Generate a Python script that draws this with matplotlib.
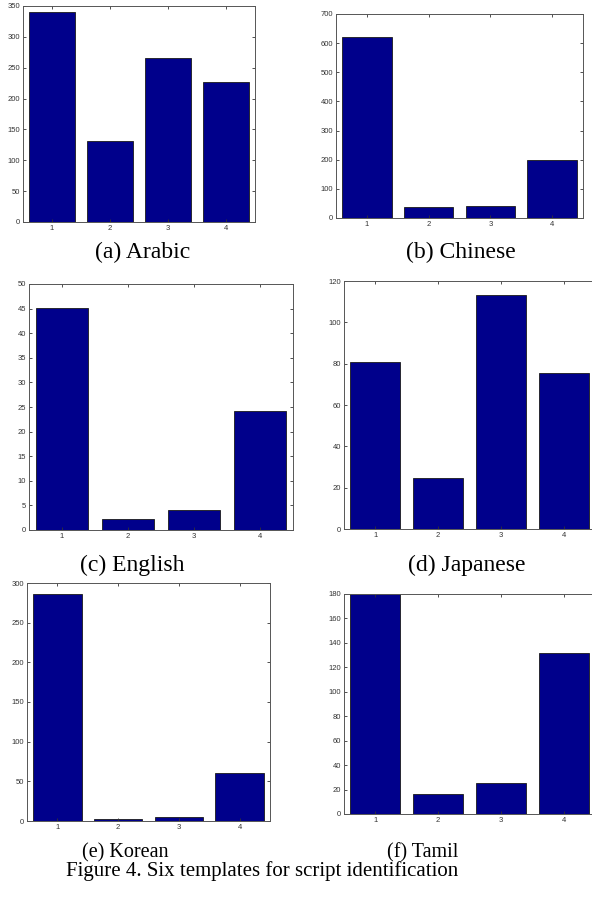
import matplotlib
matplotlib.use("Agg")
import matplotlib.pyplot as plt

# Template histograms (four features per script)
categories = [1, 2, 3, 4]
arabic = [340, 132, 266, 227]
chinese = [621, 39, 41, 198]
english = [45.2, 2.3, 4.0, 24.1]
japanese = [81, 24.6, 113.4, 75.6]
korean = [286, 2.5, 5, 60]
tamil = [180, 16, 25.4, 132]

y_maxes = [350, 700, 50, 120, 300, 180]
y_steps = [50, 100, 5, 20, 50, 20]
captions = ["(a) Arabic", "(b) Chinese", "(c) English",
            "(d) Japanese", "(e) Korean", "(f) Tamil"]
figure_title = "Figure 4. Six templates for script identification"

W, H = 592, 899
fig = plt.figure(figsize=(W / 100, H / 100), dpi=100)

# axes boxes in pixels: left, right, top, bottom
boxes = [
    (23, 255, 6, 222),
    (336, 583, 14, 218),
    (29, 293, 284, 530),
    (344, 595, 281, 529),
    (27, 270, 583, 821),
    (344, 595, 594, 814),
]
# caption centre x and baseline y in pixels, plus font size
cap_pos = [(143, 258), (461, 258), (132, 571), (467, 571), (125, 857), (423, 857)]
cap_size = [17, 17, 17, 17, 14.5, 14.5]

series = [arabic, chinese, english, japanese, korean, tamil]
tick_font = ["Liberation Sans Narrow", "Liberation Sans", "DejaVu Sans"]
serif = ["Liberation Serif", "DejaVu Serif"]

for vals, ymax, step, box, cap, cp, cs in zip(series, y_maxes, y_steps, boxes,
                                              captions, cap_pos, cap_size):
    l, r, t, b = box
    ax = fig.add_axes([l / W, 1 - b / H, (r - l) / W, (b - t) / H])
    ax.bar(categories, vals, width=0.8, color="#00008B", edgecolor="#1a1a1a", linewidth=0.6)
    ax.set_xlim(0.5, 4.5)
    ax.set_ylim(0, ymax)
    ax.set_xticks(categories)
    ax.set_yticks(range(0, ymax + 1, step))
    ax.tick_params(direction="in", length=2.5, width=0.6, top=True, right=True,
                   labelsize=5.5, colors="#333333", pad=2)
    for lab in ax.get_xticklabels() + ax.get_yticklabels():
        lab.set_family(tick_font)
    for s in ax.spines.values():
        s.set_color("#555555")
        s.set_linewidth(0.7)
    fig.text(cp[0] / W, 1 - cp[1] / H, cap, ha="center", va="baseline",
             fontsize=cs, family=serif, color="black")

fig.text(262 / W, 1 - 876 / H, figure_title, ha="center", va="baseline",
         fontsize=15, family=serif, color="black")

fig.savefig("out.png", dpi=100)
